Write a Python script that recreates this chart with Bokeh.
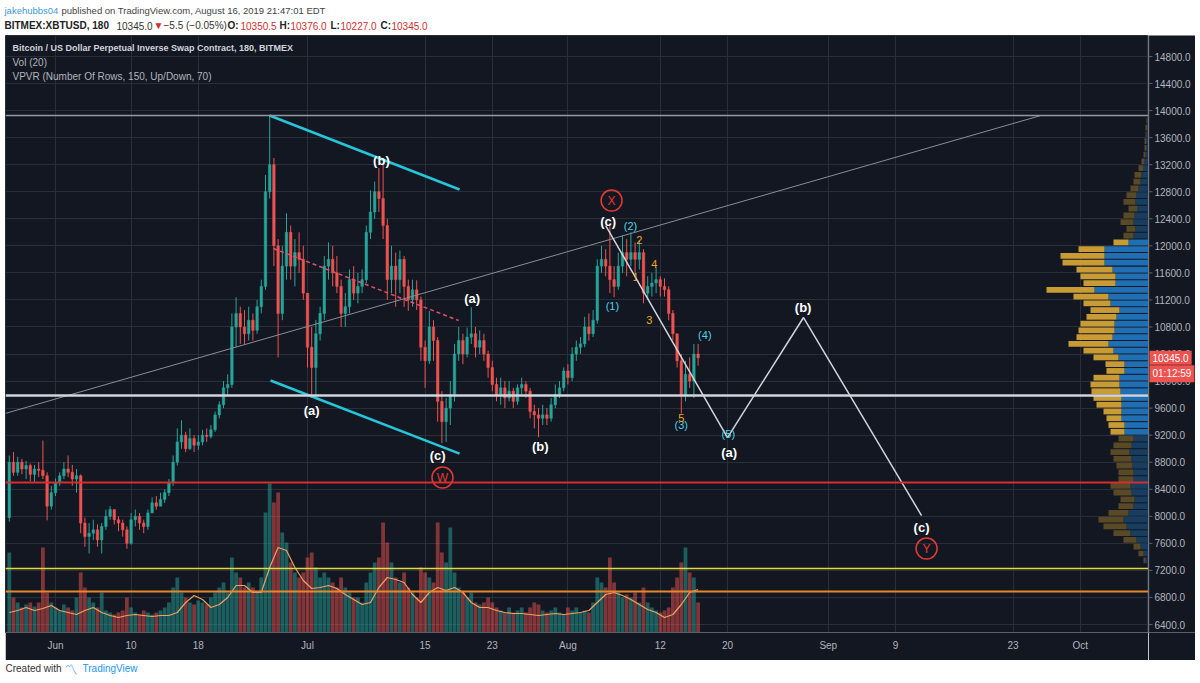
import pandas as pd
from bokeh.plotting import figure
from bokeh.models import (Range1d, LinearAxis, FixedTicker, Label, Span, Grid, ColumnDataSource, Spacer)
from bokeh.layouts import column, row
from bokeh.embed import file_html
from bokeh.resources import INLINE
from bokeh.core.properties import value

# ---------------- data (12h candles, BITMEX:XBTUSD) ----------------
first_open = 7980
close = [
8800, 8650, 8800, 8700, 8750, 8620, 8700, 8680, 8600, 8150,
8350, 8500, 8600, 8700, 8650, 8550, 8600, 7900, 7700, 7750,
7800, 7650, 7850, 8000, 8100, 7950, 7900, 7800, 7600, 7950,
8000, 7900, 7850, 8050, 8200, 8150, 8250, 8350, 8500, 8800,
9100, 9200, 9000, 9150, 9050, 9100, 9200, 9180, 9280, 9500,
9650, 9900, 9950, 10800, 11000, 10800, 10700, 10900, 10750, 11100,
11400, 12800, 13200, 12000, 11000, 11700, 12200, 11700, 11900, 11800,
11300, 10500, 10200, 10700, 11000, 11700, 11800, 11600, 11400, 11000,
11100, 11500, 11300, 11400, 11500, 12200, 12500, 12800, 12700, 12300,
11500, 11700, 11500, 11800, 11400, 11200, 11350, 11200, 10500, 10300,
10800, 10600, 9700, 9400, 9600, 9800, 10400, 10600, 10400, 10650,
10700, 10500, 10600, 10400, 10200, 9950, 9800, 9900, 9750, 9850,
9700, 9900, 9950, 9850, 9550, 9500, 9450, 9500, 9450, 9650,
9800, 9900, 10150, 10050, 10400, 10500, 10550, 10800, 10700, 10900,
11700, 11800, 11700, 11500, 11400, 11700, 11900, 11800, 11900, 11800,
11900, 11300, 11400, 11450, 11500, 11400, 11350, 11000, 10700, 10300,
9800, 10100, 10000, 10400, 10345]
high = [
8900, 8950, 8880, 8850, 8820, 8780, 8760, 8800, 9120, 8650,
8450, 8560, 8650, 8800, 8900, 8760, 8700, 8620, 7980, 7900,
7950, 7880, 7900, 8100, 8150, 8100, 8000, 7950, 7850, 8050,
8100, 8050, 7950, 8100, 8280, 8300, 8350, 8400, 8550, 8900,
9300, 9420, 9250, 9300, 9200, 9200, 9280, 9300, 9350, 9550,
9700, 10000, 10100, 11000, 11240, 11100, 11050, 11100, 11000, 11200,
11500, 13050, 13930, 13300, 12100, 12000, 12480, 12300, 12100, 12200,
12000, 11300, 10800, 10900, 11100, 11850, 12050, 12000, 11850, 11500,
11300, 11650, 11700, 11600, 11650, 12300, 12820, 12950, 13150, 13230,
12400, 12000, 11900, 11930, 11850, 11500, 11500, 11490, 11250, 10600,
11040, 10900, 10650, 9850, 9750, 10000, 10550, 10800, 10700, 10790,
11090, 10800, 10750, 10700, 10450, 10300, 10050, 10050, 10000, 10000,
9900, 9950, 10050, 10000, 9900, 9650, 9600, 9650, 9600, 9750,
9950, 10000, 10200, 10250, 10500, 10600, 10650, 10950, 11000, 11050,
11800, 12000, 11950, 12300, 11700, 11900, 12150, 12100, 12200, 12050,
12080, 11950, 11550, 11600, 11680, 11550, 11520, 11400, 11050, 10700,
10400, 10300, 10350, 10550, 10550]
low = [
7920, 8600, 8600, 8620, 8550, 8520, 8500, 8580, 8550, 7940,
8100, 8300, 8450, 8550, 8580, 8450, 8350, 7750, 7550, 7450,
7650, 7550, 7450, 7800, 7950, 7880, 7780, 7700, 7520, 7580,
7850, 7800, 7750, 7800, 8050, 8100, 8150, 8200, 8300, 8450,
8750, 9000, 8950, 8980, 8950, 8980, 9050, 9100, 9150, 9250,
9450, 9600, 9800, 9900, 10500, 10550, 10550, 10600, 10600, 10700,
11000, 11350, 12700, 11700, 10350, 10900, 11500, 11500, 11400, 11600,
11200, 10200, 9750, 9780, 10600, 10900, 11500, 11400, 11300, 10800,
10800, 11000, 11200, 11150, 11300, 11450, 12100, 12400, 12500, 12100,
11200, 11300, 11100, 11300, 11100, 11040, 11100, 11050, 10300, 9900,
10250, 10300, 9400, 9080, 9100, 9350, 9700, 10300, 10250, 10350,
10550, 10350, 10400, 10300, 10050, 9850, 9700, 9650, 9600, 9700,
9600, 9650, 9800, 9750, 9450, 9300, 9170, 9350, 9350, 9400,
9600, 9750, 9850, 9950, 10000, 10300, 10400, 10500, 10600, 10650,
10850, 11600, 11550, 11300, 11240, 11350, 11600, 11550, 11700, 11600,
11650, 11150, 11200, 11250, 11300, 11250, 11250, 10900, 10600, 10200,
9520, 9700, 9900, 9750, 10227]
volume = [
800, 350, 300, 250, 280, 300, 260, 300, 850,
400, 300, 250, 220, 280, 250, 220, 350,
600, 450, 350, 300, 250, 400,
220, 200, 180, 200, 220, 350, 250, 200, 180, 220, 200,
180, 200, 220, 250, 300, 450, 550,
400, 350, 300, 280, 320, 300, 280, 350, 400, 450, 500, 400,
750, 600, 550, 450, 500, 450, 400, 550,
1200, 1490, 1300, 1400,
1000, 900, 700, 600, 550, 600, 750,
800, 650, 550, 600, 550, 500, 450, 550, 450, 400, 350, 350, 300,
500, 600, 700, 750, 1100,
900, 700, 550, 500, 600, 450, 400, 350,
650, 600, 550, 500, 1100, 800, 700,
1050, 600, 450, 400, 350, 400,
300, 280, 300, 350, 300, 250, 220, 200, 250, 200, 220, 250, 200,
250, 300, 280, 220, 200, 220, 250, 200, 180, 250,
220, 250, 200, 220, 200, 300,
550, 500, 450, 750, 500, 400, 350, 380, 350, 400, 300,
450, 300, 250, 220, 200, 220, 250, 450, 550, 700,
850, 600, 550, 300]
vol_ma = [
200, 220, 250, 220, 240, 270, 220, 200, 180, 220,
250, 200, 170, 150, 170, 180, 170, 160, 170, 170,
200, 300, 370, 330, 250, 280, 350, 470, 470, 400,
400, 650, 850, 820, 650, 520, 440, 450, 470, 440,
380, 330, 280, 300, 450, 550, 530, 500, 380, 300,
400, 450, 420, 450, 400, 300, 250, 250, 220, 200,
190, 190, 180, 170, 180, 190, 180, 190, 200, 220,
300, 380, 400, 370, 330, 280, 230, 200, 150, 180,
280, 400, 430]
vp_levels = list(range(7350, 13851, 100))
vp_up = [3, 5, 8, 12, 18, 22, 25, 20, 15, 14,
         17, 18, 15, 15, 16, 17, 19, 17, 15, 24,
         24, 27, 27, 27, 27, 28, 29, 29, 24, 24,
         30, 35, 40, 36, 34, 34, 32, 29, 38, 40,
         54, 33, 33, 36, 44, 44, 44, 20, 15, 13,
         15, 14, 11, 13, 12, 10, 8, 7, 5, 4,
         3, 2, 2, 2, 1, 1]
vp_down = [2, 5, 7, 13, 17, 23, 25, 20, 15, 14,
           18, 20, 15, 15, 16, 18, 19, 18, 15, 14,
           16, 15, 18, 25, 28, 29, 29, 26, 18, 19,
           25, 30, 40, 36, 36, 34, 30, 29, 27, 35,
           48, 32, 35, 36, 42, 44, 26, 15, 10, 9,
           13, 11, 9, 12, 10, 8, 7, 7, 5, 3,
           2, 2, 2, 1, 2, 1]
value_area = (9200, 12100)

tick_dates = ["2019-06-01", "2019-06-10", "2019-06-18", "2019-07-01", "2019-07-15", "2019-07-23",
              "2019-08-01", "2019-08-12", "2019-08-20", "2019-09-01", "2019-09-09", "2019-09-23",
              "2019-10-01"]
tick_labels = ["Jun", "10", "18", "Jul", "15", "23", "Aug", "12", "20", "Sep", "9", "23", "Oct"]
price_ticks = list(range(6400, 14801, 400))
countdown = "01:12:59"

# horizontal drawing levels
h_levels = [13927, 9786, 8500, 7228, 6887]
h_colors = ["#9598a1", "#d1d4dc", "#d32f2f", "#e3db3c", "#e8872a"]
h_widths = [1.5, 2.5, 2, 1.5, 2]

# trend line and wave drawings (day offset from Jun 1, price)
trend_days = [-5.95, 117.3]
trend_prices = [9522, 13927]
chan_top_days = [25.48, 48.1]
chan_top_prices = [13927, 12833]
chan_bot_days = [25.6, 48.1]
chan_bot_prices = [10008, 8928]
dash_days = [25.95, 48.0]
dash_prices = [11960, 10895]
proj_days = [65.5, 80.0, 89.05, 103.1]
proj_prices = [12300, 9165, 10940, 8011]

white_txt = ["(b)", "(a)", "(c)", "(a)", "(b)", "(c)", "(a)", "(b)", "(c)"]
white_days = [38.8, 30.5, 45.5, 49.6, 57.7, 65.8, 80.2, 89.0, 103.1]
white_prices = [13262, 9564, 8899, 11221, 9032, 12360, 8943, 11088, 7834]
cyan_txt = ["(1)", "(2)", "(3)", "(4)", "(5)"]
cyan_days = [66.3, 68.45, 74.5, 77.3, 80.1]
cyan_prices = [11103, 12300, 9343, 10688, 9224]
orange_txt = ["1", "2", "3", "4", "5"]
orange_days = [69.05, 69.5, 70.7, 71.3, 74.5]
orange_prices = [11532, 12093, 10910, 11724, 9461]
circ_txt = ["X", "W", "Y"]
circ_days = [66.2, 46.07, 103.7]
circ_prices = [12670, 8573, 7523]

# ---------------- derived ----------------
origin = pd.Timestamp("2019-06-01")
times = pd.date_range("2019-05-26 12:00", periods=len(close), freq="12h")
days = [(t - origin) / pd.Timedelta(days=1) for t in times]
ma_times = pd.date_range("2019-05-26 12:00", periods=len(vol_ma), freq="24h")
ma_days = [(t - origin) / pd.Timedelta(days=1) for t in ma_times]
opens = [first_open] + close[:-1]
UP, DOWN = "#26a69a", "#ef5350"
colors = [UP if c >= o else DOWN for o, c in zip(opens, close)]
tick_days = [int((pd.Timestamp(d) - origin) / pd.Timedelta(days=1)) for d in tick_dates]

BG = "#131722"
GRID = "#2a2e39"
AX = "#5d606b"
FONT = "Liberation Sans"
LBL = "#b2b5be"

def hlabel(fig, x, y, text, color="#333333", bold=False, size="10px", font=FONT):
    fig.add_layout(Label(x=x, y=y, x_units="screen", y_units="screen", text=text,
                         text_color=color, text_font=font, text_font_size=size,
                         text_font_style="bold" if bold else "normal",
                         text_baseline="middle", text_align="left"))

# ---------------- header ----------------
hdr = figure(width=1200, height=35, x_range=Range1d(0, 1), y_range=Range1d(0, 1),
             output_backend="svg", toolbar_location=None, x_axis_type=None, y_axis_type=None,
             min_border=0, background_fill_color="white", border_fill_color="white",
             outline_line_color=None)
hlabel(hdr, 4, 25, "jakehubbs04", color="#3d9ae0", size="9.5px")
hlabel(hdr, 61, 25, "published on TradingView.com, August 16, 2019 21:47:01 EDT", color="#444444",
       size="9.5px")
segs = [(4, "BITMEX:XBTUSD, 180", "#222222", True), (116, "10345.0", "#333333", False),
        (153, "\u25BC", "#d32f2f", False), (163, "\u22125.5 (\u22120.05%)", "#333333", False),
        (227, "O:", "#222222", True), (240, "10350.5", "#d32f2f", False),
        (279, "H:", "#222222", True), (290, "10376.0", "#d32f2f", False),
        (330, "L:", "#222222", True), (340, "10227.0", "#d32f2f", False),
        (380, "C:", "#222222", True), (391, "10345.0", "#d32f2f", False)]
for x, t, c, b in segs:
    hlabel(hdr, x, 10, t, color=c, bold=b)

# ---------------- main chart ----------------
x0 = (5 - 55) / 8.4
x1 = (1148 - 55) / 8.4
yr = Range1d(6281.7, 15110.6)
p = figure(width=1143, height=625, x_range=Range1d(x0, x1), y_range=yr,
           output_backend="svg", toolbar_location=None, x_axis_type=None, y_axis_type=None,
           background_fill_color=BG, border_fill_color=BG, outline_line_color=GRID,
           min_border_left=0, min_border_top=0, min_border_right=0, min_border_bottom=28)
p.extra_y_ranges = {"vol": Range1d(0, 5970)}
p.extra_x_ranges = {"vp": Range1d(1143, 0)}

xt = FixedTicker(ticks=tick_days)
yt = FixedTicker(ticks=price_ticks)
xaxis = LinearAxis(ticker=xt, major_label_overrides=dict(zip(tick_days, tick_labels)),
                   major_label_text_color=LBL, major_label_text_font=FONT,
                   major_label_text_font_size="10px", axis_line_color=AX,
                   major_tick_line_color=None, major_tick_out=0, major_tick_in=0,
                   minor_tick_line_color=None, minor_tick_out=0, major_label_standoff=7)
p.add_layout(xaxis, "below")
p.add_layout(Grid(dimension=0, ticker=xt, grid_line_color=GRID))
p.add_layout(Grid(dimension=1, ticker=yt, grid_line_color=GRID))

# VPVR
in_va = [value_area[0] <= lv <= value_area[1] for lv in vp_levels]
vp_src = ColumnDataSource(dict(
    y=vp_levels, up=vp_up, tot=[u + d for u, d in zip(vp_up, vp_down)],
    ucol=["#1f6fb5" if v else "#173d61" for v in in_va],
    dcol=["#c89b34" if v else "#594a25" for v in in_va]))
p.hbar(y="y", height=85, left=0, right="up", fill_color="ucol", line_color=None,
       x_range_name="vp", source=vp_src)
p.hbar(y="y", height=85, left="up", right="tot", fill_color="dcol", line_color=None,
       x_range_name="vp", source=vp_src)

# volume
src = ColumnDataSource(dict(t=days, o=opens, c=close, h=high, l=low, color=colors, v=volume,
                            top=[max(a, b) for a, b in zip(opens, close)],
                            bot=[min(a, b) for a, b in zip(opens, close)]))
p.vbar(x="t", width=0.45, top="v", bottom=0, fill_color="color", fill_alpha=0.5,
       line_color=None, y_range_name="vol", source=src)
p.line(ma_days, vol_ma, line_color="#f0a060", line_width=1.2, y_range_name="vol")

# candles
p.segment(x0="t", y0="l", x1="t", y1="h", line_color="color", line_width=1, source=src)
p.vbar(x="t", width=0.3, top="top", bottom="bot", fill_color="color", line_color="color",
       line_width=0.5, source=src)

# horizontal levels
for lv, col, w in zip(h_levels, h_colors, h_widths):
    p.add_layout(Span(location=lv, dimension="width", line_color=col, line_width=w))

# drawings
p.line(trend_days, trend_prices, line_color="#8a8d96", line_width=1)
p.line(chan_top_days, chan_top_prices, line_color="#26c6da", line_width=2.5)
p.line(chan_bot_days, chan_bot_prices, line_color="#26c6da", line_width=2.5)
p.line(dash_days, dash_prices, line_color="#e0506e", line_width=1.5, line_dash="4 3")
p.line(proj_days, proj_prices, line_color="#d1d4dc", line_width=1.5)

p.text(white_days, white_prices, text=white_txt, text_color="white", text_font=value(FONT),
       text_font_size="13px", text_font_style="bold", text_align="center", text_baseline="middle")
p.text(cyan_days, cyan_prices, text=cyan_txt, text_color="#4dd0e1", text_font=value(FONT),
       text_font_size="11px", text_align="center", text_baseline="middle")
p.text(orange_days, orange_prices, text=orange_txt, text_color="#f5a623",
       text_font=value(FONT), text_font_size="11px", text_align="center",
       text_baseline="middle")
p.scatter(circ_days, circ_prices, marker="circle", size=21, fill_color=None,
          line_color="#e53935", line_width=1.5)
p.text(circ_days, circ_prices, text=circ_txt, text_color="#e53935", text_font=value(FONT),
       text_font_size="12px", text_align="center", text_baseline="middle")

# legend texts
hlabel(p, 7, 585, "Bitcoin / US Dollar Perpetual Inverse Swap Contract, 180, BITMEX",
       color="#d1d4dc", bold=True, size="9px")
hlabel(p, 7, 570, "Vol (20)", color=LBL)
hlabel(p, 7, 556, "VPVR (Number Of Rows, 150, Up/Down, 70)", color=LBL)

# ---------------- price scale panel ----------------
pax = figure(width=47, height=625, x_range=Range1d(0, 47), y_range=yr,
             output_backend="svg", toolbar_location=None, x_axis_type=None, y_axis_type=None,
             background_fill_color=BG, border_fill_color=BG, outline_line_color=None,
             min_border_left=0, min_border_top=0, min_border_right=0, min_border_bottom=28)
pax.add_layout(LinearAxis(ticker=FixedTicker(ticks=[]), axis_line_color=AX,
                          major_tick_line_color=None, minor_tick_line_color=None,
                          major_label_text_alpha=0), "below")
pax.add_layout(Span(location=0, dimension="height", line_color=AX, line_width=1.5))
pax.segment(x0=0, y0=price_ticks, x1=4, y1=price_ticks, line_color=AX, line_width=1)
pax.text(x=6, y=price_ticks, text=[f"{t:.1f}" for t in price_ticks], text_color=LBL,
         text_font=value(FONT), text_font_size="10px", text_align="left", text_baseline="middle")
pax.add_layout(Label(x=1, y=close[-1], x_units="screen", y_units="data", text=f"{close[-1]:.1f}",
                     text_color="white", background_fill_color="#ef5350", text_font=FONT,
                     text_font_size="10px", text_baseline="middle", text_align="left", padding=3))
pax.add_layout(Label(x=1, y=close[-1], y_offset=-16, x_units="screen", y_units="data",
                     text=countdown, text_color="white", background_fill_color="#ef5350",
                     text_font=FONT, text_font_size="10px", text_baseline="middle",
                     text_align="left", padding=3))

# ---------------- footer ----------------
ftr = figure(width=1200, height=23, x_range=Range1d(0, 1), y_range=Range1d(0, 1),
             output_backend="svg", toolbar_location=None, x_axis_type=None, y_axis_type=None,
             min_border=0, background_fill_color="white", border_fill_color="white",
             outline_line_color=None)
hlabel(ftr, 5, 15, "Created with", color="#333333")
hlabel(ftr, 64, 15, "\u303D", color="#2196f3", size="13px", font="Noto Sans CJK SC")
hlabel(ftr, 82, 15, "TradingView", color="#2196f3")

layout = column(hdr, row(Spacer(width=5, height=625), p, pax, spacing=0), ftr, spacing=0)
open("out.html", "w").write(file_html(layout, INLINE))
